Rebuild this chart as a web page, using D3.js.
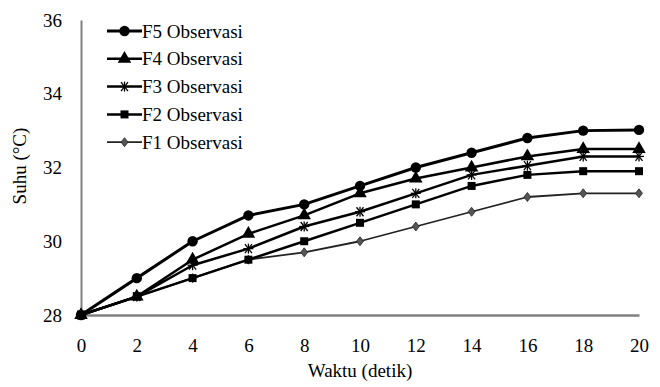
<!DOCTYPE html>
<html>
<head>
<meta charset="utf-8">
<script src="https://cdn.jsdelivr.net/npm/d3@7"></script>
<style>
  body { margin: 0; background: #fff; }
</style>
</head>
<body>
<div id="chart"></div>
<script>
// x values (detik)
const waktu = [0, 2, 4, 6, 8, 10, 12, 14, 16, 18, 20];
const yTicks = [28, 30, 32, 34, 36];

// series values
const f5 = [28, 29, 30, 30.7, 31, 31.5, 32, 32.4, 32.8, 33, 33.02];
const f4 = [28, 28.5, 29.5, 30.2, 30.7, 31.3, 31.7, 32.0, 32.3, 32.5, 32.5];
const f3 = [28, 28.5, 29.35, 29.8, 30.4, 30.8, 31.3, 31.8, 32.05, 32.3, 32.3];
const f2 = [28, 28.5, 29.0, 29.5, 30.0, 30.5, 31.0, 31.5, 31.8, 31.9, 31.9];
const f1 = [28, 28.5, 29.0, 29.5, 29.7, 30.0, 30.4, 30.8, 31.2, 31.3, 31.3];

const seriesNames = ['F5 Observasi', 'F4 Observasi', 'F3 Observasi', 'F2 Observasi', 'F1 Observasi'];

const series = [
  { name: seriesNames[0], values: f5, marker: 'circle', width: 3, size: 90, color: '#000' },
  { name: seriesNames[1], values: f4, marker: 'triangle', width: 2.5, size: 80, color: '#000' },
  { name: seriesNames[2], values: f3, marker: 'asterisk', width: 2.5, size: 0, color: '#000' },
  { name: seriesNames[3], values: f2, marker: 'square', width: 2.5, size: 50, color: '#000' },
  { name: seriesNames[4], values: f1, marker: 'diamond', width: 1.8, size: 40, color: '#222' }
];

const W = 660, H = 387;
const margin = { top: 20, right: 21, bottom: 72, left: 81 };
const FONT = 'Liberation Serif';

const svg = d3.select('#chart').append('svg')
  .attr('width', W)
  .attr('height', H)
  .attr('font-family', FONT);

const x = d3.scaleLinear().domain([0, 20]).range([margin.left, W - margin.right]);
const y = d3.scaleLinear().domain([28, 36]).range([H - margin.bottom, margin.top]);

// axes
const xAxis = svg.append('g')
  .attr('transform', `translate(0,${y(28)})`)
  .call(d3.axisBottom(x).tickValues(waktu).tickSize(0).tickPadding(24).tickFormat(d3.format('d')));
xAxis.attr('font-family', FONT).attr('font-size', 19);
xAxis.selectAll('text').attr('fill', '#000');
xAxis.select('.domain').attr('stroke', '#808080').attr('stroke-width', 2.5);

const yAxis = svg.append('g')
  .attr('transform', `translate(${x(0)},0)`)
  .call(d3.axisLeft(y).tickValues(yTicks).tickSize(0).tickPadding(19).tickFormat(d3.format('d')));
yAxis.attr('font-family', FONT).attr('font-size', 19);
yAxis.selectAll('text').attr('fill', '#000');
yAxis.select('.domain').attr('stroke', '#808080').attr('stroke-width', 2);

// axis titles
svg.append('text')
  .attr('x', 360)
  .attr('y', 377)
  .attr('text-anchor', 'middle')
  .attr('font-family', FONT)
  .attr('font-size', 19)
  .text('Waktu (detik)');

svg.append('text')
  .attr('transform', 'translate(26,166) rotate(-90)')
  .attr('text-anchor', 'middle')
  .attr('font-family', FONT)
  .attr('font-size', 19)
  .text('Suhu (°C)');

// marker drawing
function drawMarker(g, s, cx, cy) {
  if (s.marker === 'circle') {
    g.append('circle').attr('cx', cx).attr('cy', cy).attr('r', 5.2).attr('fill', s.color);
  } else if (s.marker === 'triangle') {
    g.append('path').attr('transform', `translate(${cx},${cy})`)
      .attr('d', d3.symbol(d3.symbolTriangle, s.size)()).attr('fill', s.color);
  } else if (s.marker === 'square') {
    g.append('rect').attr('x', cx - 4).attr('y', cy - 4).attr('width', 8).attr('height', 8).attr('fill', s.color);
  } else if (s.marker === 'diamond') {
    g.append('path').attr('transform', `translate(${cx},${cy})`)
      .attr('d', 'M0,-4.5L3.5,0L0,4.5L-3.5,0Z').attr('fill', '#555').attr('stroke', '#222').attr('stroke-width', 0.8);
  } else if (s.marker === 'asterisk') {
    const a = g.append('g').attr('transform', `translate(${cx},${cy})`).attr('stroke', s.color).attr('stroke-width', 1.3);
    a.append('line').attr('x1', -5).attr('y1', 0).attr('x2', 5).attr('y2', 0);
    a.append('line').attr('x1', -3.5).attr('y1', -4.5).attr('x2', 3.5).attr('y2', 4.5);
    a.append('line').attr('x1', 3.5).attr('y1', -4.5).attr('x2', -3.5).attr('y2', 4.5);
    a.append('line').attr('x1', 0).attr('y1', -5).attr('x2', 0).attr('y2', 5);
  }
}

const line = d3.line()
  .x((d, i) => x(waktu[i]))
  .y(d => y(d));

// draw series from F1 up so F5 is on top
series.slice().reverse().forEach(s => {
  const g = svg.append('g');
  g.append('path')
    .attr('d', line(s.values))
    .attr('fill', 'none')
    .attr('stroke', s.color)
    .attr('stroke-width', s.width)
    .attr('stroke-linejoin', 'round');
  s.values.forEach((v, i) => drawMarker(g, s, x(waktu[i]), y(v)));
});

// legend
const legend = svg.append('g');
series.forEach((s, i) => {
  const ly = 31 + i * 27.8;
  const row = legend.append('g');
  row.append('line')
    .attr('x1', 107).attr('x2', 142)
    .attr('y1', ly).attr('y2', ly)
    .attr('stroke', s.color)
    .attr('stroke-width', s.width);
  drawMarker(row, s, 124.5, ly);
  row.append('text')
    .attr('x', 142)
    .attr('y', ly)
    .attr('dy', '0.35em')
    .attr('font-family', FONT)
    .attr('font-size', 19)
    .text(s.name);
});
</script>
</body>
</html>
